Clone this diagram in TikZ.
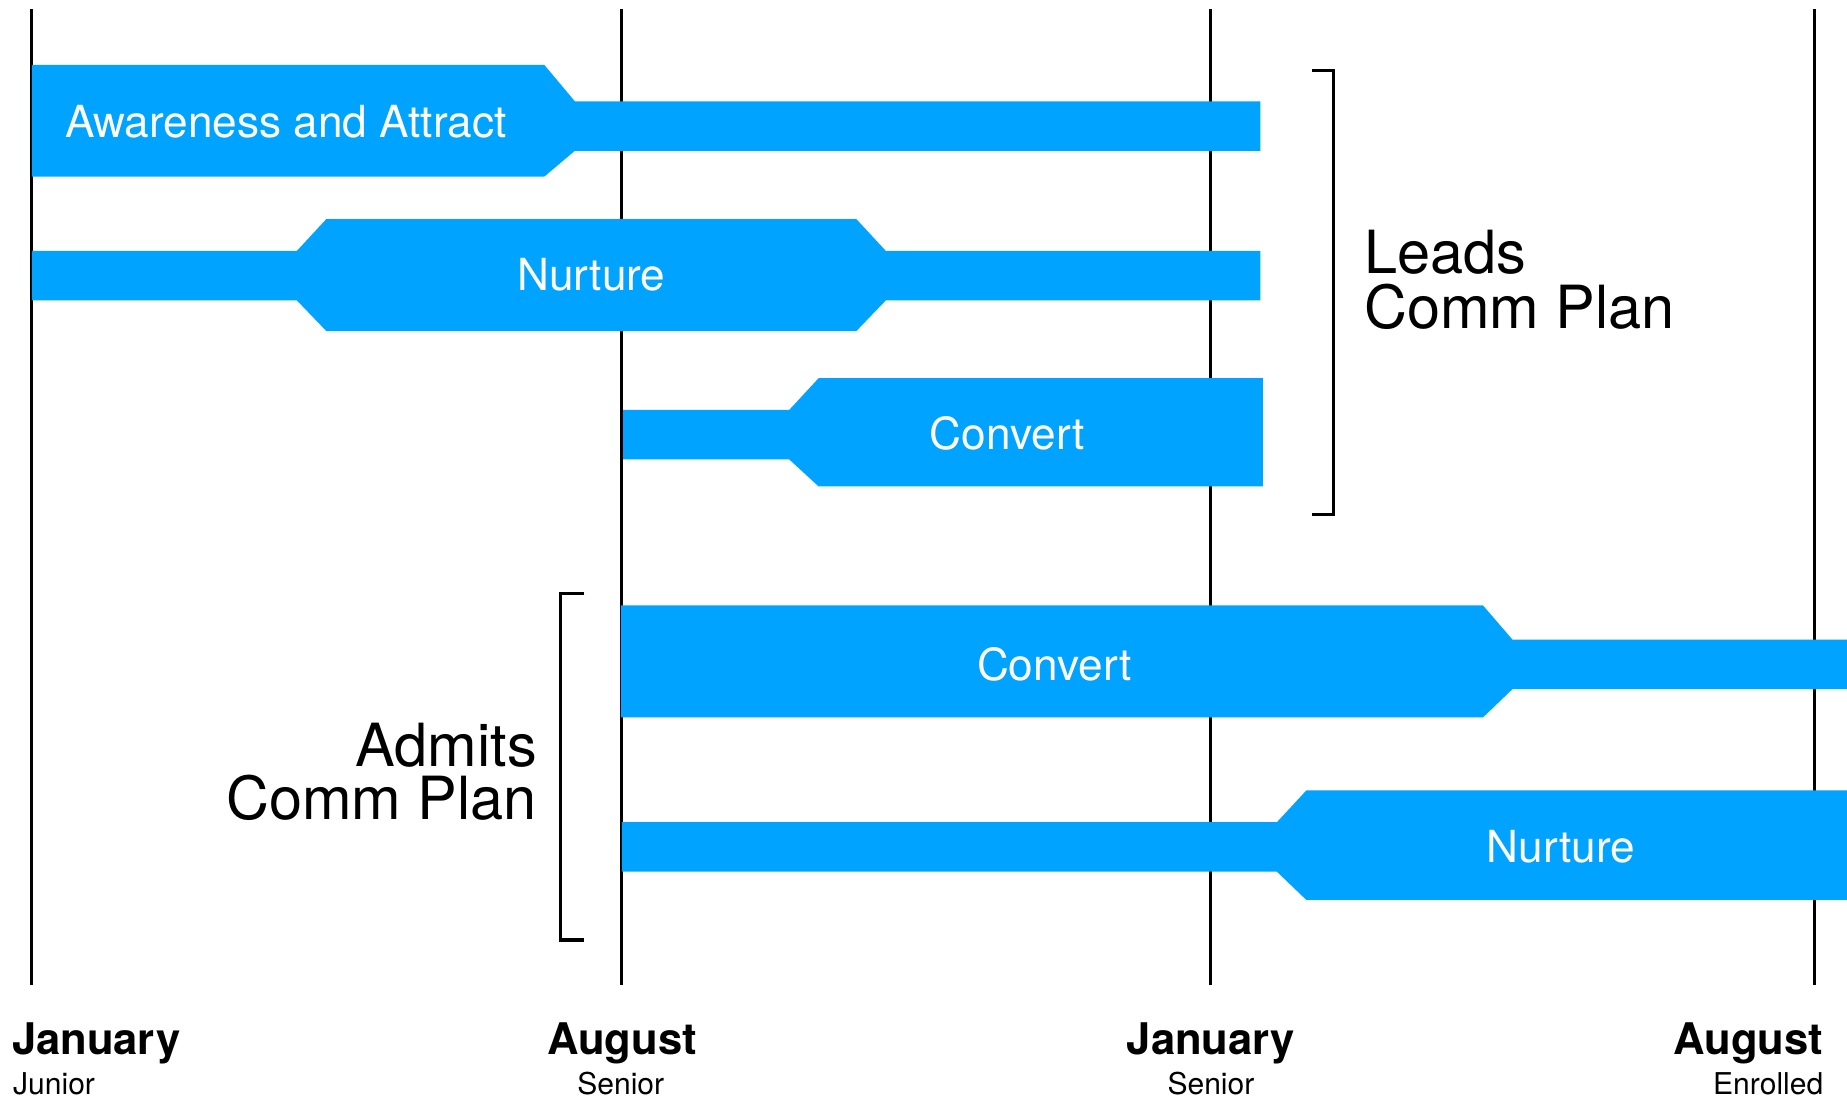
\documentclass[tikz,border=0pt]{standalone}
\usepackage{fontspec}
\setmainfont{TeX Gyre Heros}
\definecolor{barblue}{RGB}{0,163,255}
\begin{document}
\begin{tikzpicture}[x=1pt,y=-1pt,
  bar/.style={fill=barblue,draw=none},
  barlabel/.style={text=white,inner sep=0pt,font=\fontsize{37.5}{40}\selectfont},
  planlabel/.style={text=black,inner sep=0pt,font=\fontsize{50.5}{46}\selectfont},
  month/.style={inner sep=0pt,font=\fontsize{37}{40}\selectfont\bfseries},
  phase/.style={inner sep=0pt,font=\fontsize{25.5}{28}\selectfont},
  gridline/.style={line width=2.6pt,black},
  bracketline/.style={line width=2.6pt,black}]
\useasboundingbox (0,0) rectangle (1568,935);

% timeline markers
\coordinate (t1top) at (27,8);   \coordinate (t1bot) at (27,836);
\coordinate (t2top) at (528,8);  \coordinate (t2bot) at (528,836);
\coordinate (t3top) at (1028,8); \coordinate (t3bot) at (1028,836);
\coordinate (t4top) at (1540,8); \coordinate (t4bot) at (1540,836);
\draw[gridline] (t1top) -- (t1bot);
\draw[gridline] (t2top) -- (t2bot);
\draw[gridline] (t3top) -- (t3bot);
\draw[gridline] (t4top) -- (t4bot);

% leads phases
\path[bar] (27,55) -- (462,55) -- (488,86) -- (1070,86) -- (1070,128)
  -- (488,128) -- (462,150) -- (27,150) -- cycle;
\path[bar] (27,213) -- (252,213) -- (277,186) -- (727,186) -- (752,213)
  -- (1070,213) -- (1070,255) -- (752,255) -- (727,281) -- (277,281)
  -- (252,255) -- (27,255) -- cycle;
\path[bar] (529,348) -- (670,348) -- (695,321) -- (1072,321) -- (1072,413)
  -- (695,413) -- (670,390) -- (529,390) -- cycle;

% admits phases
\path[bar] (527,514) -- (1259,514) -- (1284,543) -- (1568,543) -- (1568,585)
  -- (1284,585) -- (1259,609) -- (527,609) -- cycle;
\path[bar] (528,698) -- (1084,698) -- (1109,671) -- (1568,671) -- (1568,764)
  -- (1109,764) -- (1084,740) -- (528,740) -- cycle;

% phase labels
\node[barlabel,anchor=west] (aware) at (55,103) {Awareness and Attract};
\node[barlabel] (lnurture) at (502,233) {Nurture};
\node[barlabel] (lconvert) at (855,368) {Convert};
\node[barlabel] (aconvert) at (895,564) {Convert};
\node[barlabel] (anurture) at (1325,719) {Nurture};

% brackets
\coordinate (lb1) at (1114,60);  \coordinate (lb2) at (1132,60);
\coordinate (lb3) at (1132,437); \coordinate (lb4) at (1114,437);
\draw[bracketline] (lb1) -- (lb2) -- (lb3) -- (lb4);
\coordinate (ab1) at (496,504);  \coordinate (ab2) at (476,504);
\coordinate (ab3) at (476,798);  \coordinate (ab4) at (496,798);
\draw[bracketline] (ab1) -- (ab2) -- (ab3) -- (ab4);

% plan labels
\node[planlabel,anchor=base west] (leadsA) at (1158,232) {Leads};
\node[planlabel,anchor=base west] (leadsB) at (1158,279) {Comm Plan};
\node[planlabel,anchor=base east] (admitsA) at (456,651) {Admits};
\node[planlabel,anchor=base east] (admitsB) at (456,696) {Comm Plan};

% axis labels
\node[month,anchor=base west] (m1) at (10,895) {January};
\node[month,anchor=base] (m2) at (528,895) {August};
\node[month,anchor=base] (m3) at (1028,895) {January};
\node[month,anchor=base east] (m4) at (1548,895) {August};
\node[phase,anchor=base west] (p1) at (11,929) {Junior};
\node[phase,anchor=base] (p2) at (527,929) {Senior};
\node[phase,anchor=base] (p3) at (1028,929) {Senior};
\node[phase,anchor=base east] (p4) at (1548,929) {Enrolled};
\end{tikzpicture}
\end{document}
